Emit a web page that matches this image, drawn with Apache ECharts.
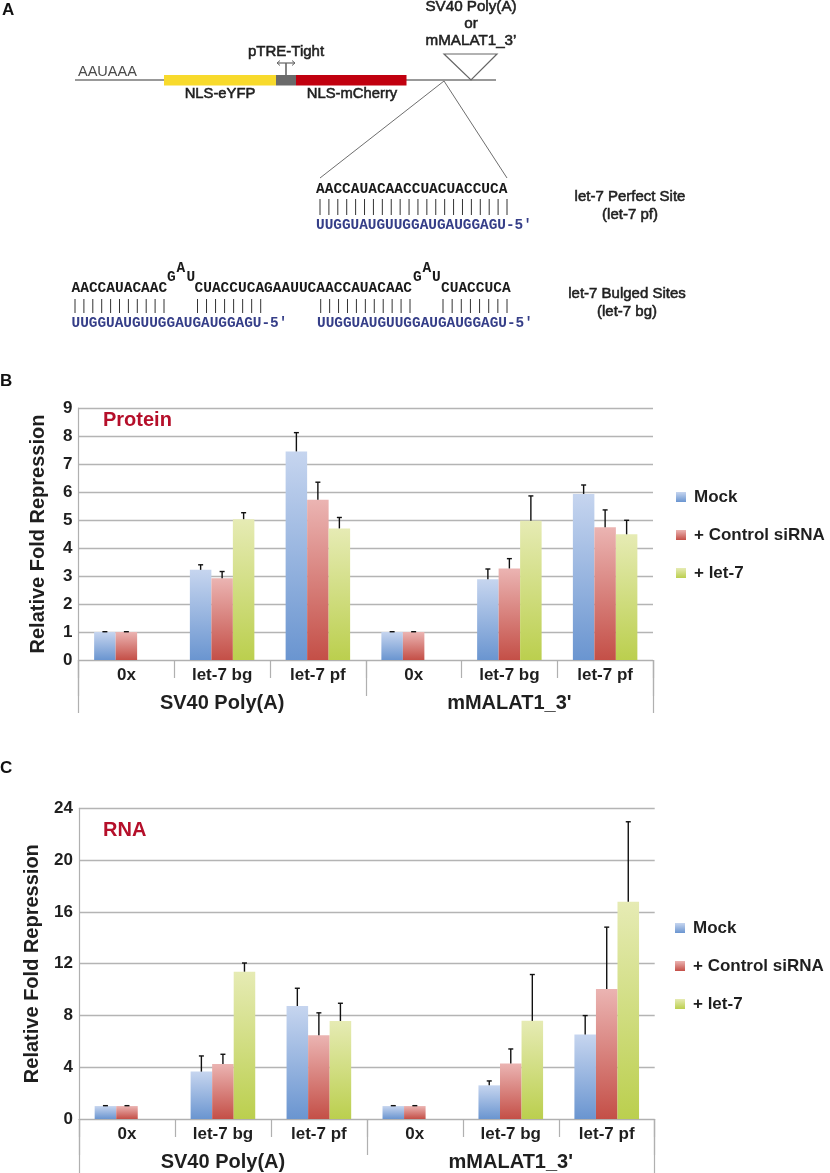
<!DOCTYPE html>
<html><head><meta charset="utf-8">
<style>html,body{margin:0;padding:0;background:#fff}#c{width:830px;height:1173px}</style>
<script src="https://cdn.jsdelivr.net/npm/echarts@6/dist/echarts.min.js"></script>
</head><body><div id="c"></div>
<script>
const categories = ['0x','let-7 bg','let-7 pf','0x','let-7 bg','let-7 pf'];
const constructs = ['SV40 Poly(A)',"mMALAT1_3'"];
const seriesNames = ['Mock','+ Control siRNA','+ let-7'];

const proteinMock = [1,3.22,7.45,1,2.88,5.93];
const proteinCtrl = [1,2.92,5.72,1,3.27,4.74];
const proteinLet7 = [null,5.03,4.7,null,4.97,4.49];
const proteinMockErr = [1.01,3.4,8.12,1.01,3.25,6.25];
const proteinCtrlErr = [1.01,3.16,6.35,1.01,3.62,5.36];
const proteinLet7Err = [null,5.26,5.09,null,5.86,4.99];

const rnaMock = [1,3.66,8.73,1,2.6,6.52];
const rnaCtrl = [1,4.25,6.46,1,4.28,10.05];
const rnaLet7 = [null,11.38,7.57,null,7.58,16.78];
const rnaMockErr = [1.03,4.87,10.1,1.03,2.94,7.99];
const rnaCtrlErr = [1.03,5.0,8.2,1.03,5.41,14.82];
const rnaLet7Err = [null,12.05,8.94,null,11.16,22.96];

const perfectTop = 'AACCAUACAACCUACUACCUCA';
const guide = 'UUGGUAUGUUGGAUGAUGGAGU-5\u2032';

const SANS = '"Liberation Sans",Arial,sans-serif';
const MONO = '"Liberation Mono",monospace';
const TXT = '#1f1f1f', RULE = '#b4b4b4', AXIS='#b0b0b0';
const grads = [['#c6d5ef','#6a95d0'],['#ebb4b2','#c44f47'],['#e6ebb4','#bbcf4e']];
const fillOf = i => ({type:'linear',x:0,y:0,x2:0,y2:1,colorStops:[{offset:0,color:grads[i][0]},{offset:1,color:grads[i][1]}]});

const g = [];
const text = (s,x,y,o={}) => g.push({type:'text',silent:true,style:{text:s,x,y,
  fill:o.fill||TXT,align:o.align||'left',verticalAlign:'middle',
  font:`${o.weight||'normal'} ${o.size||14}px ${o.family||SANS}`,
  stroke:o.stroke||undefined,lineWidth:o.stroke?0.55:0}});
const line = (x1,y1,x2,y2,c='#6e6e6e',w=1) => g.push({type:'line',silent:true,shape:{x1,y1,x2,y2},style:{stroke:c,lineWidth:w}});
const rect = (x,y,w,h,c) => g.push({type:'rect',silent:true,shape:{x,y,width:w,height:h},style:{fill:c}});
const ticks = (x0,x1,n,y0,y1) => { for(let i=0;i<n;i++){const x=x0+(x1-x0)*i/(n-1); line(x,y0,x,y1,'#333',1);} };

// Panel letters
text('A',2,10,{weight:'bold',size:17,fill:'#111'});
text('B',0,381,{weight:'bold',size:17,fill:'#111'});
text('C',0,768,{weight:'bold',size:17,fill:'#111'});

// Construct diagram
line(75,80,496,80,'#777',1.5);
rect(164,75,112,10.5,'#f8da2c');
rect(276,75,20,10.5,'#6a6a6a');
rect(296,75,110.5,10.5,'#c1000f');
line(286,63,286,75,'#666',1.6);
line(277,63,295,63,'#666',1.2);
g.push({type:'polyline',silent:true,shape:{points:[[280,60.5],[277,63],[280,65.5]]},style:{stroke:'#666',fill:'none',lineWidth:1}});
g.push({type:'polyline',silent:true,shape:{points:[[292,60.5],[295,63],[292,65.5]]},style:{stroke:'#666',fill:'none',lineWidth:1}});
g.push({type:'polygon',silent:true,shape:{points:[[444,54],[497,54],[471,80]]},style:{stroke:'#666',fill:'none',lineWidth:1.2}});
line(444,81,320,178); line(444,81,507,178);
text('AAUAAA',78,72,{size:14.5,fill:'#4a4a4a'});
text('NLS-eYFP',220,94,{align:'center',size:14.8,stroke:TXT});
text('NLS-mCherry',352,94,{align:'center',size:14.8,stroke:TXT});
text('pTRE-Tight',286,52,{align:'center',size:15,stroke:TXT});
text('SV40 Poly(A)',471,7,{align:'center',size:15.2,stroke:TXT});
text('or',471,24,{align:'center',size:15.2,stroke:TXT});
text('mMALAT1_3\u2019',471,41,{align:'center',size:15.2,stroke:TXT});

// Sites
const BLUE='#353e88', seq={family:MONO,weight:'bold',size:14.5,fill:'#1a1a1a'}, gd={family:MONO,weight:'bold',size:14.4,fill:BLUE};
text(perfectTop,316,189,seq);
ticks(320,507,22,199,215);
text(guide,316,225,gd);
text('let-7 Perfect Site',630,197,{align:'center',size:15,stroke:TXT});
text('(let-7 pf)',630,215,{align:'center',size:15,stroke:TXT});

text('AACCAUACAAC',71.5,288,seq);
text('G',167,277,seq); text('A',176.5,268,seq); text('U',186.5,277,seq);
text('CUACCUCAGAAUUCAACCAUACAAC',194.5,288,seq);
text('G',413,277,seq); text('A',422.5,268,seq); text('U',432,277,seq);
text('CUACCUCA',441,288,seq);
ticks(75,164,11,299,313); ticks(197.5,260.7,8,299,313);
ticks(320.7,410,11,299,313); ticks(443,507,8,299,313);
text(guide,71.5,323,gd); text(guide,317,323,gd);
text('let-7 Bulged Sites',627,294,{align:'center',size:15,stroke:TXT});
text('(let-7 bg)',627,312,{align:'center',size:15,stroke:TXT});

// Panel titles
text('Protein',103,420,{weight:'bold',size:20,fill:'#b50f2a'});
text('RNA',103,830,{weight:'bold',size:20,fill:'#b50f2a'});

const BAR_FRAC = 0.2245;
const grids = [{left:78.5,right:177,top:408,bottom:513},{left:79,right:175.3,top:808.3,bottom:54}];
const xAxes=[], yAxes=[], series=[], legends=[];
const axisLine = {lineStyle:{color:AXIS,width:1.2}};
const panels = [
 {vals:[proteinMock,proteinCtrl,proteinLet7],errs:[proteinMockErr,proteinCtrlErr,proteinLet7Err],max:9,step:1,nameGap:30,endTick:53,legendTop:488.5,legendLeft:676},
 {vals:[rnaMock,rnaCtrl,rnaLet7],errs:[rnaMockErr,rnaCtrlErr,rnaLet7Err],max:24,step:4,nameGap:37,endTick:54,legendTop:919.5,legendLeft:675}
];
panels.forEach((p,k)=>{
  const base = xAxes.length;
  xAxes.push({gridIndex:k,type:'category',data:categories,position:'bottom',axisLine:{show:true,...axisLine},
    axisTick:{show:true,interval:0,length:18,lineStyle:{color:AXIS,width:1.2}},
    axisLabel:{interval:0,margin:7,color:TXT,fontFamily:SANS,fontWeight:'bold',fontSize:17}});
  xAxes.push({gridIndex:k,type:'category',data:constructs,position:'bottom',axisLine:{show:false},
    axisTick:{show:true,interval:0,length:36,lineStyle:{color:AXIS,width:1.2}},
    axisLabel:{interval:0,margin:33,color:TXT,fontFamily:SANS,fontWeight:'bold',fontSize:20}});
  xAxes.push({gridIndex:k,type:'category',data:[''],position:'bottom',axisLine:{show:false},
    axisTick:{show:true,interval:0,length:p.endTick,lineStyle:{color:AXIS,width:1.2}},axisLabel:{show:false}});
  yAxes.push({gridIndex:k,type:'value',min:0,max:p.max,interval:p.step,
    name:'Relative Fold Repression',nameLocation:'middle',nameRotate:90,nameGap:p.nameGap,
    nameTextStyle:{color:TXT,fontFamily:SANS,fontWeight:'bold',fontSize:20},
    axisLine:{show:true,...axisLine},axisTick:{show:false},
    axisLabel:{margin:6,color:TXT,fontFamily:SANS,fontWeight:'bold',fontSize:17},
    splitLine:{show:true,lineStyle:{color:RULE,width:1.4}}});
  seriesNames.forEach((name,i)=>{
    series.push({name,type:'bar',xAxisIndex:base,yAxisIndex:k,data:p.vals[i],barWidth:(BAR_FRAC*100)+'%',barGap:0,
      itemStyle:{color:fillOf(i)},silent:true,animation:false});
    series.push({type:'custom',xAxisIndex:base,yAxisIndex:k,silent:true,animation:false,z:3,
      data:p.errs[i].map((e,c)=>e==null?null:[c,e,p.vals[i][c]]).filter(Boolean),
      encode:{x:0,y:1},
      renderItem:(params,api)=>{
        const band=api.size([1,0])[0], cx=api.coord([api.value(0),0])[0]+(i-1)*band*BAR_FRAC;
        const yt=api.coord([0,api.value(1)])[1], yb=api.coord([0,api.value(2)])[1];
        const st={stroke:'#111',lineWidth:1.4};
        return {type:'group',children:[
          {type:'line',shape:{x1:cx,y1:yt,x2:cx,y2:yb},style:st},
          {type:'line',shape:{x1:cx-2.5,y1:yt,x2:cx+2.5,y2:yt},style:st}]};
      }});
  });
  legends.push({data:seriesNames,orient:'vertical',left:p.legendLeft,top:p.legendTop,padding:0,itemWidth:10,itemHeight:10,itemGap:21,
    icon:'rect',selectedMode:false,textStyle:{color:TXT,fontFamily:SANS,fontWeight:'bold',fontSize:17,padding:[0,0,0,3]}});
});

const chart = echarts.init(document.getElementById('c'),null,{renderer:'canvas'});
chart.setOption({backgroundColor:'#fff',animation:false,grid:grids,xAxis:xAxes,yAxis:yAxes,series,legend:legends,graphic:g});
</script></body></html>
